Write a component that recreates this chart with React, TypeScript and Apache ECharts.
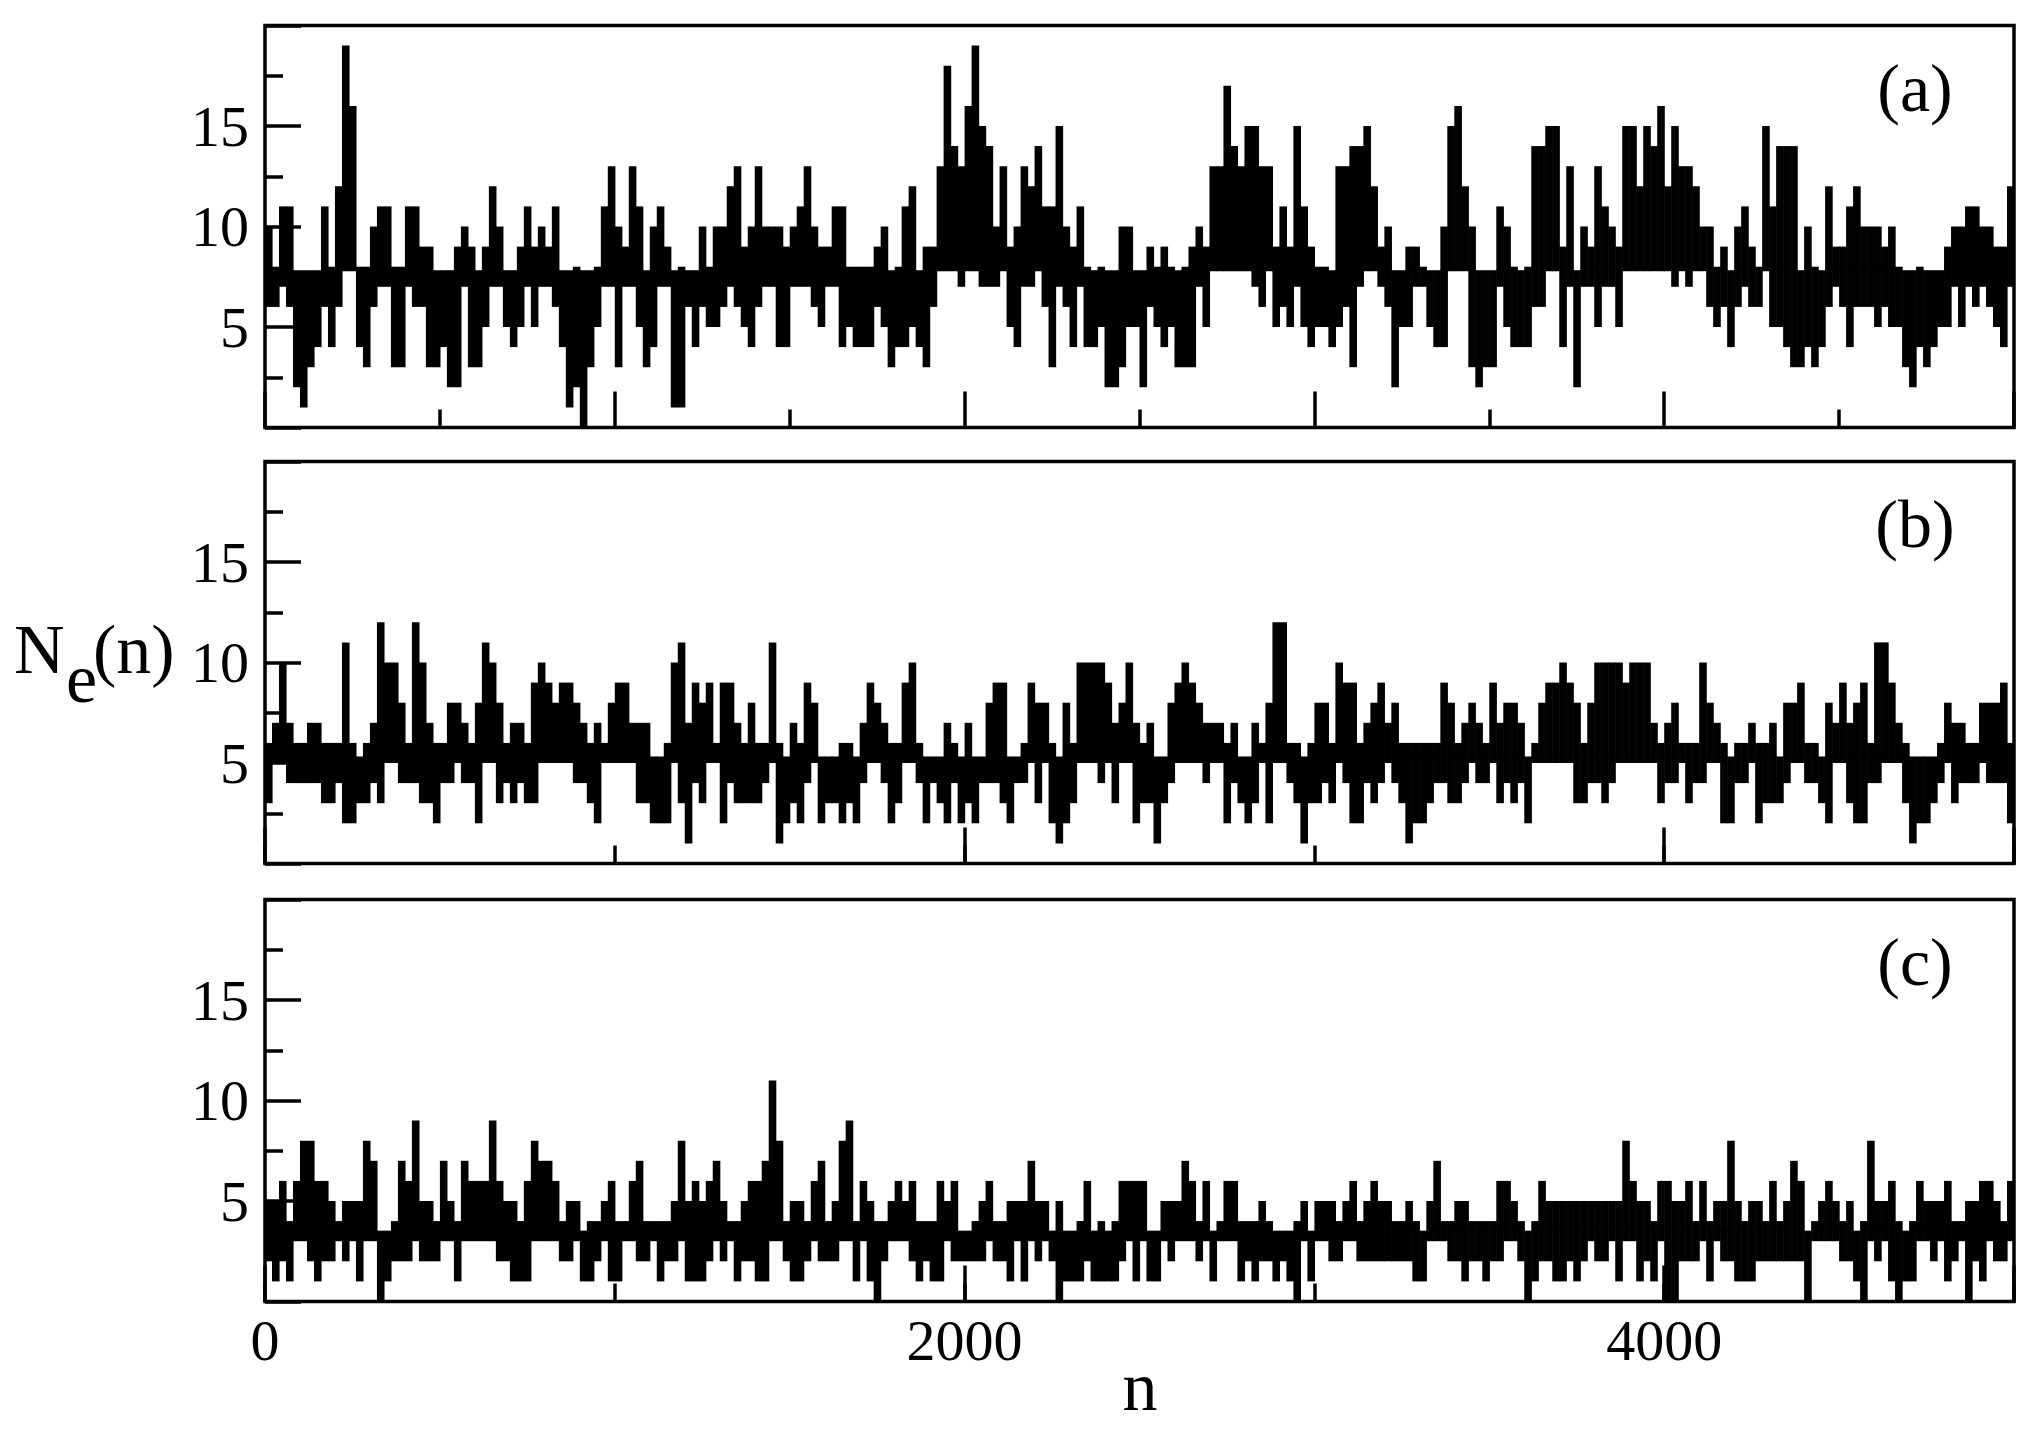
import React, { useEffect, useRef } from 'react';
import * as echarts from 'echarts';

// ---- data (each bin spans BIN steps of n) ----
const BIN = 20;
const X_MAX = 5000;
const Y_MAX = 20;
const BASE_A = 7.8;
const BASE_B = 5.3;
const BASE_C = 3.5;
const PANEL_LABELS = ['(a)', '(b)', '(c)'];
const X_TICK_LABELS = [0, 2000, 4000];
const Y_TICK_LABELS = [5, 10, 15];

// highest value of N_e reached inside each bin
const A_UP = [
  10, 8, 11, 11, 7, 7, 7, 7, 11, 8,
  12, 19, 16, 8, 8, 10, 11, 11, 8, 8,
  11, 11, 9, 9, 7, 7, 7, 9, 10, 9,
  7, 9, 12, 10, 7, 7, 9, 11, 9, 10,
  9, 11, 7, 7, 8, 7, 7, 8, 11, 13,
  10, 9, 13, 11, 7, 10, 11, 9, 7, 8,
  7, 7, 10, 8, 10, 10, 12, 13, 9, 10,
  13, 10, 10, 10, 9, 10, 11, 13, 10, 9,
  9, 11, 11, 8, 8, 8, 8, 9, 10, 7,
  8, 11, 12, 7, 9, 9, 13, 18, 14, 13,
  16, 19, 15, 14, 10, 13, 9, 10, 13, 12,
  14, 11, 11, 15, 10, 9, 11, 8, 7, 8,
  7, 7, 10, 10, 7, 7, 9, 8, 9, 8,
  7, 8, 9, 10, 9, 13, 13, 17, 14, 13,
  15, 15, 13, 13, 9, 11, 9, 15, 11, 9,
  8, 8, 7, 13, 13, 14, 14, 15, 12, 9,
  10, 7, 7, 9, 9, 8, 7, 7, 10, 15,
  16, 12, 10, 7, 7, 7, 11, 10, 8, 7,
  8, 14, 14, 15, 15, 9, 13, 7, 10, 9,
  13, 11, 10, 9, 15, 15, 12, 15, 14, 16,
  12, 15, 13, 13, 12, 10, 10, 8, 9, 7,
  10, 11, 9, 8, 15, 11, 14, 14, 14, 7,
  10, 8, 7, 12, 9, 9, 11, 12, 10, 10,
  10, 9, 10, 8, 7, 7, 8, 7, 7, 7,
  9, 10, 10, 11, 11, 10, 10, 9, 9, 12,
];
// lowest value of N_e reached inside each bin
const A_LOW = [
  6, 6, 7, 6, 2, 1, 3, 4, 6, 4,
  6, 8, 8, 4, 3, 6, 7, 7, 3, 3,
  7, 6, 6, 3, 3, 4, 2, 2, 7, 3,
  3, 5, 7, 7, 5, 4, 5, 7, 5, 7,
  7, 6, 4, 1, 2, 0, 3, 5, 7, 7,
  3, 7, 7, 5, 3, 4, 7, 7, 1, 1,
  6, 4, 6, 5, 5, 6, 7, 6, 5, 4,
  6, 7, 7, 4, 4, 7, 7, 7, 6, 5,
  7, 7, 4, 5, 4, 4, 4, 6, 5, 3,
  4, 4, 5, 4, 3, 6, 8, 8, 8, 7,
  8, 8, 7, 7, 7, 8, 5, 4, 7, 7,
  8, 6, 3, 7, 6, 4, 7, 4, 4, 5,
  2, 2, 3, 5, 5, 2, 6, 5, 4, 5,
  3, 3, 3, 7, 5, 8, 8, 8, 8, 8,
  8, 7, 6, 8, 5, 6, 5, 7, 5, 4,
  5, 5, 4, 5, 6, 3, 7, 8, 8, 7,
  6, 2, 5, 5, 7, 7, 5, 4, 4, 8,
  8, 8, 3, 2, 3, 3, 7, 5, 4, 4,
  4, 6, 6, 8, 8, 4, 7, 2, 7, 7,
  5, 7, 7, 5, 8, 8, 8, 8, 8, 8,
  8, 7, 8, 7, 8, 8, 6, 5, 6, 4,
  6, 7, 6, 6, 8, 5, 5, 4, 3, 3,
  4, 3, 4, 6, 7, 6, 4, 6, 6, 6,
  5, 6, 5, 5, 3, 2, 4, 3, 4, 5,
  5, 7, 5, 7, 6, 7, 6, 5, 4, 7,
];
const B_UP = [
  6, 7, 10, 7, 6, 6, 7, 7, 6, 6,
  6, 11, 6, 5, 6, 7, 12, 10, 10, 8,
  6, 12, 10, 7, 6, 6, 8, 8, 7, 6,
  8, 11, 10, 8, 6, 7, 7, 6, 9, 10,
  9, 8, 9, 9, 8, 7, 6, 7, 6, 8,
  9, 9, 7, 7, 7, 5, 5, 6, 10, 11,
  7, 9, 8, 9, 6, 9, 9, 7, 6, 8,
  6, 6, 11, 6, 5, 7, 6, 9, 8, 5,
  5, 5, 6, 6, 5, 7, 9, 8, 7, 6,
  6, 9, 10, 6, 5, 5, 5, 7, 6, 5,
  7, 5, 5, 8, 9, 9, 5, 5, 6, 9,
  8, 8, 6, 5, 8, 6, 10, 10, 10, 10,
  9, 7, 8, 10, 7, 6, 7, 5, 5, 8,
  9, 10, 9, 8, 7, 7, 7, 6, 7, 5,
  5, 7, 6, 8, 12, 12, 6, 6, 5, 6,
  8, 8, 6, 10, 9, 9, 6, 7, 8, 9,
  7, 8, 6, 6, 6, 6, 6, 6, 9, 8,
  6, 7, 8, 7, 6, 9, 7, 8, 8, 7,
  5, 6, 8, 9, 9, 10, 9, 8, 6, 8,
  10, 10, 10, 10, 9, 10, 10, 10, 7, 6,
  7, 8, 6, 6, 6, 10, 8, 7, 6, 5,
  6, 6, 7, 6, 6, 7, 5, 8, 8, 9,
  6, 6, 5, 8, 7, 9, 7, 8, 9, 6,
  11, 11, 9, 7, 6, 5, 5, 5, 5, 6,
  8, 7, 7, 6, 6, 8, 8, 8, 9, 6,
];
const B_LOW = [
  3, 5, 5, 4, 4, 4, 4, 4, 3, 3,
  4, 2, 2, 3, 3, 4, 3, 5, 5, 4,
  4, 4, 3, 3, 2, 4, 4, 5, 4, 4,
  2, 5, 5, 3, 4, 3, 4, 3, 3, 5,
  5, 5, 5, 5, 4, 4, 3, 2, 5, 5,
  5, 5, 5, 3, 3, 2, 2, 2, 5, 3,
  1, 4, 3, 5, 5, 2, 4, 3, 3, 3,
  3, 4, 5, 1, 2, 3, 2, 4, 5, 2,
  3, 3, 2, 3, 2, 4, 5, 5, 4, 2,
  3, 5, 5, 4, 2, 4, 3, 2, 4, 2,
  3, 2, 4, 4, 4, 3, 2, 4, 4, 5,
  3, 5, 2, 1, 2, 3, 5, 5, 5, 4,
  5, 3, 5, 5, 2, 3, 3, 1, 3, 4,
  5, 5, 5, 5, 4, 5, 5, 2, 4, 3,
  2, 3, 5, 2, 5, 5, 4, 3, 1, 3,
  3, 4, 3, 5, 4, 2, 2, 4, 3, 4,
  5, 4, 3, 1, 2, 2, 3, 4, 4, 3,
  3, 4, 5, 4, 4, 5, 3, 4, 3, 4,
  2, 5, 5, 5, 5, 5, 5, 3, 3, 4,
  4, 3, 4, 5, 5, 5, 5, 5, 5, 3,
  4, 4, 5, 3, 4, 4, 5, 5, 2, 2,
  4, 4, 5, 2, 3, 3, 3, 4, 5, 5,
  4, 4, 3, 2, 5, 5, 3, 2, 2, 4,
  4, 5, 5, 5, 3, 1, 2, 2, 3, 4,
  5, 3, 4, 4, 4, 5, 4, 4, 4, 2,
];
const C_UP = [
  5, 5, 6, 4, 6, 8, 8, 6, 6, 5,
  4, 5, 5, 5, 8, 7, 3, 3, 4, 7,
  6, 9, 5, 5, 4, 7, 5, 4, 7, 6,
  6, 6, 9, 6, 5, 5, 4, 6, 8, 7,
  7, 6, 4, 5, 5, 3, 4, 4, 5, 6,
  4, 4, 6, 7, 4, 4, 4, 4, 5, 8,
  5, 6, 5, 6, 7, 5, 4, 4, 5, 6,
  6, 7, 11, 8, 4, 5, 5, 4, 6, 7,
  4, 5, 8, 9, 4, 6, 5, 4, 4, 5,
  6, 5, 6, 4, 4, 4, 6, 5, 6, 3,
  3, 4, 5, 6, 4, 4, 5, 5, 5, 7,
  5, 5, 3, 5, 3, 3, 4, 6, 3, 4,
  3, 4, 6, 6, 6, 6, 3, 3, 5, 5,
  5, 7, 6, 4, 6, 3, 4, 6, 6, 4,
  4, 4, 5, 4, 3, 3, 3, 4, 5, 3,
  5, 5, 5, 4, 5, 6, 4, 5, 6, 5,
  5, 4, 4, 5, 4, 3, 5, 7, 4, 4,
  5, 5, 4, 4, 4, 4, 6, 6, 5, 4,
  3, 4, 6, 5, 5, 5, 5, 5, 5, 5,
  5, 5, 5, 5, 8, 6, 5, 5, 4, 6,
  6, 5, 5, 6, 4, 6, 4, 5, 5, 8,
  5, 4, 5, 5, 4, 6, 4, 5, 7, 6,
  3, 4, 5, 6, 5, 4, 5, 3, 4, 8,
  5, 5, 6, 4, 3, 4, 6, 5, 5, 5,
  6, 4, 4, 5, 5, 6, 6, 5, 4, 6,
];
const C_LOW = [
  2, 1, 2, 1, 3, 3, 2, 1, 2, 2,
  3, 2, 3, 1, 3, 3, 0, 1, 2, 2,
  2, 3, 2, 2, 2, 3, 3, 1, 3, 3,
  3, 3, 3, 2, 2, 1, 1, 1, 3, 3,
  3, 3, 2, 2, 3, 1, 1, 2, 3, 1,
  1, 3, 3, 2, 2, 3, 1, 2, 2, 3,
  1, 1, 1, 2, 3, 2, 3, 1, 2, 2,
  1, 1, 3, 3, 2, 1, 1, 2, 3, 2,
  2, 2, 3, 3, 1, 3, 1, 0, 2, 3,
  3, 3, 2, 1, 2, 1, 1, 3, 2, 2,
  2, 2, 2, 3, 2, 2, 1, 3, 1, 3,
  2, 3, 2, 0, 1, 1, 1, 2, 1, 1,
  1, 1, 2, 3, 1, 3, 1, 1, 3, 2,
  3, 3, 3, 2, 3, 1, 3, 3, 3, 1,
  2, 1, 2, 2, 1, 2, 1, 0, 3, 1,
  3, 3, 2, 2, 3, 3, 2, 2, 2, 2,
  2, 2, 2, 2, 1, 1, 3, 3, 3, 2,
  2, 1, 2, 2, 1, 2, 2, 3, 3, 2,
  0, 1, 2, 2, 1, 1, 2, 1, 2, 3,
  2, 2, 3, 1, 3, 3, 1, 2, 1, 3,
  0, 0, 2, 2, 2, 3, 1, 3, 2, 2,
  1, 1, 1, 2, 2, 2, 2, 2, 2, 2,
  0, 3, 3, 3, 3, 2, 2, 1, 0, 3,
  2, 3, 1, 0, 1, 1, 3, 3, 2, 3,
  1, 2, 3, 0, 2, 1, 3, 2, 2, 3,
];

// ---- layout / style ----
const FONT = "'Liberation Serif', 'Times New Roman', Times, serif";
const PLOT_LEFT = 265;
const PLOT_WIDTH = 1749;
const PANEL_TOPS = [25.5, 461.5, 899.5];
const PANEL_H = 402;
const LINE_W = 3.5;

function buildData(up: number[], low: number[]) {
  return up.map((u, i) => [i * BIN, u, low[i]]);
}

function makeRender(base: number) {
  return (params: any, api: any) => {
    const x0 = api.value(0);
    const up = api.value(1);
    const lo = api.value(2);
    const pA = api.coord([x0, base]);
    const pB = api.coord([x0 + BIN, base]);
    const w = pB[0] - pA[0] + 0.6;
    const children: any[] = [];
    if (up > base) {
      const yU = api.coord([x0, up])[1];
      children.push({
        type: 'rect',
        shape: { x: pA[0], y: yU, width: w, height: pA[1] - yU + 0.5 },
        style: { fill: '#000' },
      });
    }
    if (lo < base) {
      const yL = api.coord([x0, lo])[1];
      children.push({
        type: 'rect',
        shape: { x: pA[0], y: pA[1] - 0.5, width: w, height: yL - pA[1] + 0.5 },
        style: { fill: '#000' },
      });
    }
    return { type: 'group', children };
  };
}

function yAxisFor(gi: number) {
  return {
    type: 'value',
    gridIndex: gi,
    min: 0,
    max: Y_MAX,
    interval: 5,
    axisLine: { show: false },
    axisTick: { show: true, inside: true, length: 36, lineStyle: { color: '#000', width: LINE_W } },
    minorTick: { show: true, splitNumber: 2, length: 18, lineStyle: { color: '#000', width: LINE_W } },
    splitLine: { show: false },
    minorSplitLine: { show: false },
    axisLabel: {
      show: true,
      margin: 16,
      fontSize: 58,
      color: '#000',
      fontFamily: FONT,
      formatter: (v: number) => (Y_TICK_LABELS.includes(v) ? String(v) : ''),
    },
  };
}

function xAxisFor(gi: number, interval: number, tickLen: number, minor: boolean, labels: boolean) {
  return {
    type: 'value',
    gridIndex: gi,
    position: 'bottom',
    min: 0,
    max: X_MAX,
    interval,
    axisLine: { show: false, onZero: false },
    axisTick: { show: true, inside: true, length: tickLen, lineStyle: { color: '#000', width: LINE_W } },
    minorTick: { show: minor, splitNumber: 2, length: 18, lineStyle: { color: '#000', width: LINE_W } },
    splitLine: { show: false },
    minorSplitLine: { show: false },
    axisLabel: {
      show: labels,
      margin: 10,
      fontSize: 58,
      color: '#000',
      fontFamily: FONT,
      formatter: (v: number) => (X_TICK_LABELS.includes(v) ? String(v) : ''),
    },
  };
}

export default function App() {
  const ref = useRef<HTMLDivElement>(null);

  useEffect(() => {
    if (!ref.current) return;
    const chart = echarts.init(ref.current, undefined, { renderer: 'svg' });

    const grids = PANEL_TOPS.map((top) => ({
      show: true,
      left: PLOT_LEFT,
      top,
      width: PLOT_WIDTH,
      height: PANEL_H,
      borderColor: '#000',
      borderWidth: LINE_W,
      backgroundColor: 'transparent',
      containLabel: false,
    }));

    const option: any = {
      animation: false,
      backgroundColor: '#fff',
      textStyle: { fontFamily: FONT },
      grid: grids,
      xAxis: [
        xAxisFor(0, 1000, 36, true, false),
        xAxisFor(1, 1000, 18, false, false),
        xAxisFor(1, 2000, 36, false, false),
        xAxisFor(2, 1000, 18, false, false),
        xAxisFor(2, 2000, 36, false, true),
      ],
      yAxis: [yAxisFor(0), yAxisFor(1), yAxisFor(2)],
      series: [
        {
          type: 'custom',
          xAxisIndex: 0,
          yAxisIndex: 0,
          dimensions: ['n', 'up', 'low'],
          encode: { x: 0, y: [1, 2] },
          renderItem: makeRender(BASE_A),
          data: buildData(A_UP, A_LOW),
        },
        {
          type: 'custom',
          xAxisIndex: 1,
          yAxisIndex: 1,
          dimensions: ['n', 'up', 'low'],
          encode: { x: 0, y: [1, 2] },
          renderItem: makeRender(BASE_B),
          data: buildData(B_UP, B_LOW),
        },
        {
          type: 'custom',
          xAxisIndex: 3,
          yAxisIndex: 2,
          dimensions: ['n', 'up', 'low'],
          encode: { x: 0, y: [1, 2] },
          renderItem: makeRender(BASE_C),
          data: buildData(C_UP, C_LOW),
        },
      ],
      graphic: [
        ...PANEL_LABELS.map((t, i) => ({
          type: 'text',
          x: 1915,
          y: PANEL_TOPS[i] + 62,
          style: {
            text: t,
            fontSize: 68,
            fontFamily: FONT,
            fill: '#000',
            textAlign: 'center',
            textVerticalAlign: 'middle',
            verticalAlign: 'middle',
          },
        })),
        {
          type: 'text',
          x: 14,
          y: 649,
          style: { text: 'N', fontSize: 70, fontFamily: FONT, fill: '#000', textAlign: 'left', verticalAlign: 'middle' },
        },
        {
          type: 'text',
          x: 66,
          y: 678,
          style: { text: 'e', fontSize: 70, fontFamily: FONT, fill: '#000', textAlign: 'left', verticalAlign: 'middle' },
        },
        {
          type: 'text',
          x: 93,
          y: 649,
          style: { text: '(n)', fontSize: 70, fontFamily: FONT, fill: '#000', textAlign: 'left', verticalAlign: 'middle' },
        },
        {
          type: 'text',
          x: 1140,
          y: 1386,
          style: { text: 'n', fontSize: 70, fontFamily: FONT, fill: '#000', textAlign: 'center', verticalAlign: 'middle' },
        },
      ],
    };

    chart.setOption(option);
    return () => chart.dispose();
  }, []);

  return (
    <div
      ref={ref}
      style={{ position: 'fixed', left: 0, top: 0, width: 2037, height: 1433, background: '#fff' }}
    />
  );
}
